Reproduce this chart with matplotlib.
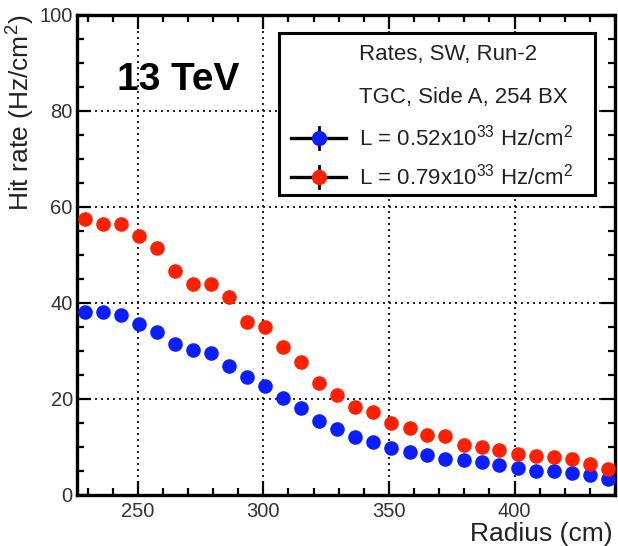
import matplotlib
matplotlib.use("Agg")
import matplotlib.pyplot as plt
from matplotlib.lines import Line2D
from matplotlib.patches import Rectangle
from matplotlib.ticker import MultipleLocator

plt.rcParams['font.family'] = ['Liberation Sans', 'DejaVu Sans']
plt.rcParams['mathtext.fontset'] = 'custom'
plt.rcParams['mathtext.rm'] = 'Liberation Sans'
plt.rcParams['mathtext.it'] = 'Liberation Sans'

# ---- data ----
radius = [229.0, 236.2, 243.4, 250.5, 257.7, 264.9, 272.1, 279.2, 286.4, 293.6,
          300.8, 307.9, 315.1, 322.3, 329.5, 336.6, 343.8, 351.0, 358.2, 365.3,
          372.5, 379.7, 386.9, 394.0, 401.2, 408.4, 415.6, 422.8, 429.9, 437.1]
rate_low = [38.2, 38.1, 37.5, 35.6, 34.0, 31.5, 30.2, 29.6, 26.9, 24.6,
            22.7, 20.3, 18.1, 15.5, 13.8, 12.0, 11.1, 9.7, 9.0, 8.3,
            7.6, 7.2, 6.8, 6.25, 5.7, 5.1, 5.1, 4.5, 4.2, 3.3]
rate_high = [57.6, 56.4, 56.4, 54.0, 51.4, 46.7, 43.9, 43.9, 41.3, 36.1,
             34.9, 30.9, 27.8, 23.4, 20.9, 18.4, 17.2, 14.9, 13.9, 12.4,
             12.2, 10.4, 10.1, 9.4, 8.5, 8.2, 8.0, 7.4, 6.5, 5.4]
label_low = r"L = 0.52x10$^{33}$ Hz/cm$^{2}$"
label_high = r"L = 0.79x10$^{33}$ Hz/cm$^{2}$"
header_lines = ["Rates, SW, Run-2", "TGC, Side A, 254 BX"]
xticks = [250, 300, 350, 400]
yticks = [0, 20, 40, 60, 80, 100]

col_low = '#0a1eff'
col_high = '#ff2000'

fig = plt.figure(figsize=(6.18, 5.46), dpi=100)
ax = fig.add_axes([77/618, (546-495)/546, 538/618, 480/546])

ax.plot(radius, rate_low, 'o', color=col_low, ms=10.5, mec='none', zorder=3)
ax.plot(radius, rate_high, 'o', color=col_high, ms=10.5, mec='none', zorder=3)

ax.set_xlim(225.8, 440)
ax.set_ylim(0, 100)
ax.set_xticks(xticks)
ax.set_yticks(yticks)
ax.xaxis.set_minor_locator(MultipleLocator(10))
ax.yaxis.set_minor_locator(MultipleLocator(5))
ax.tick_params(which='both', direction='in', top=True, right=True,
               colors='black', labelcolor='#333333')
ax.tick_params(which='major', length=10, width=1.6, labelsize=14.5)
ax.tick_params(axis='x', which='major', pad=5)
ax.tick_params(axis='y', which='major', pad=3)
ax.tick_params(which='minor', length=5, width=1.6)
for s in ax.spines.values():
    s.set_linewidth(2.4)

ax.set_axisbelow(True)
ax.grid(True, which='major', color='black', lw=1.2, ls=(0, (1.2, 2.4)))

ax.set_xlabel("Radius (cm)", fontsize=19, loc='right', color='#222222')
ax.set_ylabel("Hit rate (Hz/cm$^{2}$)", fontsize=19, loc='top', color='#222222')
ax.xaxis.set_label_coords(0.995, -0.056)
ax.yaxis.set_label_coords(-0.075, 1.0)

# legend box (ROOT style)
ax.add_patch(Rectangle((0.376, 0.625), 0.587, 0.337, transform=ax.transAxes,
                       fill=True, facecolor='white', edgecolor='black', lw=2.2, zorder=5))
rows_y = [0.917, 0.829, 0.744, 0.6625]
tx = 0.525
for t, yy in zip(header_lines, rows_y[:2]):
    ax.text(tx, yy, t, transform=ax.transAxes, fontsize=16, color='#222222',
            va='center', ha='left', zorder=6)
for lab, col, yy in [(label_low, col_low, rows_y[2]), (label_high, col_high, rows_y[3])]:
    ax.add_line(Line2D([0.397, 0.5], [yy, yy], transform=ax.transAxes,
                       color='black', lw=2.4, zorder=6))
    ax.add_line(Line2D([0.450, 0.450], [yy-0.023, yy+0.023], transform=ax.transAxes,
                       color='black', lw=2.0, zorder=6))
    ax.add_line(Line2D([0.450], [yy], transform=ax.transAxes, marker='o', ms=11,
                       color=col, mec='none', ls='none', zorder=7))
    ax.text(tx, yy, lab, transform=ax.transAxes, fontsize=16, color='#222222',
            va='center', ha='left', zorder=6)

ax.text(0.188, 0.865, "13 TeV", transform=ax.transAxes, fontsize=28,
        fontweight='bold', ha='center', va='center', color='black', zorder=6)

fig.savefig("out.png", dpi=100)
